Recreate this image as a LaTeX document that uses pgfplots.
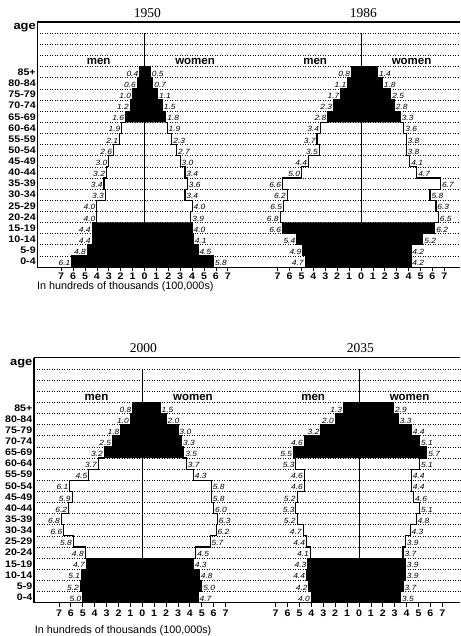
\documentclass[border=0pt]{standalone}
\usepackage{fontspec}
\setmainfont{Liberation Sans}
\newfontfamily\titlefont{Liberation Serif}
\newfontfamily\widesans{Liberation Sans}[FakeStretch=1.12]
\usepackage{pgfplots}
\usepackage{pgfplotstable}
\pgfplotsset{compat=1.18}

% k = age group index (0 = 0-4 ... 17 = 85+), m = men, w = women (hundreds of thousands)
\pgfplotstableread{
k m w
0 6.1 5.8
1 4.8 4.5
2 4.4 4.1
3 4.4 4.0
4 4.0 3.9
5 4.0 4.0
6 3.3 3.4
7 3.4 3.6
8 3.2 3.4
9 3.0 3.0
10 2.6 2.7
11 2.1 2.3
12 1.9 1.9
13 1.6 1.8
14 1.2 1.5
15 1.0 1.1
16 0.6 0.7
17 0.4 0.5
18 0 0
}\tA
\pgfplotstableread{
k m w
0 4.7 4.2
1 4.9 4.2
2 5.4 5.2
3 6.6 6.2
4 6.8 6.5
5 6.5 6.3
6 6.2 5.8
7 6.6 6.7
8 5.0 4.7
9 4.4 4.1
10 3.5 3.8
11 3.7 3.8
12 3.4 3.6
13 2.8 3.3
14 2.3 2.8
15 1.7 2.5
16 1.1 1.8
17 0.8 1.4
18 0 0
}\tB
\pgfplotstableread{
k m w
0 5.0 4.7
1 5.2 5.0
2 5.1 4.8
3 4.7 4.3
4 4.8 4.5
5 5.8 5.7
6 6.6 6.2
7 6.8 6.3
8 6.2 6.0
9 5.9 5.8
10 6.1 5.8
11 4.5 4.3
12 3.7 3.7
13 3.2 3.5
14 2.5 3.3
15 1.8 3.0
16 1.0 2.0
17 0.8 1.5
18 0 0
}\tC
\pgfplotstableread{
k m w
0 4.0 3.5
1 4.2 3.7
2 4.4 3.9
3 4.3 3.9
4 4.1 3.7
5 4.4 3.9
6 4.7 4.3
7 5.2 4.8
8 5.3 5.1
9 5.2 4.6
10 4.6 4.4
11 4.6 4.4
12 5.3 5.1
13 5.5 5.7
14 4.6 5.1
15 3.2 4.4
16 2.0 3.3
17 1.3 2.9
18 0 0
}\tD

\newcommand{\agefnt}{\widesans\bfseries\fontsize{9.5}{10}\selectfont}
\newcommand{\valfnt}{\widesans\itshape\fontsize{7.5}{8}\selectfont}
\newcommand{\sexfnt}{\bfseries\fontsize{11.5}{12}\selectfont}

\pgfplotsset{
  pyr/.style={x=11.9pt, y=11.13pt, ymin=0, ymax=22, enlargelimits=false,
    clip=false, anchor=south west, axis line style={draw=none},
    xtick={-7,-6,-5,-4,-3,-2,-1,0,1,2,3,4,5,6,7},
    xticklabels={7,6,5,4,3,2,1,0,1,2,3,4,5,6,7},
    xtick pos=bottom, xtick align=outside, major tick length=4.5pt,
    xtick style={black, line width=0.8pt},
    xticklabel style={font=\agefnt, inner sep=0.8pt},
    ytick=\empty, ytick style={draw=none}},
  agelab/.style={ytick={0.5,1.5,2.5,3.5,4.5,5.5,6.5,7.5,8.5,9.5,10.5,11.5,12.5,13.5,14.5,15.5,16.5,17.5,21.5},
    yticklabels={0-4,5-9,10-14,15-19,20-24,25-29,30-34,35-39,40-44,45-49,50-54,55-59,60-64,65-69,70-74,75-79,80-84,85+,{\fontsize{11.5}{12}\selectfont age}},
    yticklabel style={font=\agefnt, inner sep=1.5pt}},
}

\newcommand{\pyramid}[3]{%
  \pgfplotsinvokeforeach{1,...,21}{\draw[black, line width=0.6pt, dash pattern=on 0.9pt off 1.6pt] (axis cs:#2,##1) -- (axis cs:#3,##1);}
  \draw[line width=1.3pt] (axis cs:#2,22) -- (axis cs:#3,22);
  \draw[line width=0.9pt] (axis cs:#2,0) -- (axis cs:#3,0);
  \draw[line width=0.9pt] (axis cs:0,0) -- (axis cs:0,21);
  \addplot[xbar, bar width=1, bar shift=0pt, fill=black, draw=none, restrict y to domain=0:4] table[x expr=-\thisrow{m}, y expr=\thisrow{k}+0.5]{#1};
  \addplot[xbar, bar width=1, bar shift=0pt, fill=black, draw=none, restrict y to domain=13:18] table[x expr=-\thisrow{m}, y expr=\thisrow{k}+0.5]{#1};
  \addplot[xbar, bar width=1, bar shift=0pt, fill=black, draw=none, restrict y to domain=0:4] table[x=w, y expr=\thisrow{k}+0.5]{#1};
  \addplot[xbar, bar width=1, bar shift=0pt, fill=black, draw=none, restrict y to domain=13:18] table[x=w, y expr=\thisrow{k}+0.5]{#1};
  \addplot[const plot mark right, black, line width=1.1pt, mark=none] table[x expr=-\thisrow{m}, y=k]{#1};
  \addplot[const plot mark right, black, line width=1.1pt, mark=none] table[x=w, y=k]{#1};
  \addplot[only marks, mark=*, mark size=0pt, mark options={draw=none,fill=none}, point meta=explicit symbolic, nodes near coords, nodes near coords style={anchor=base east, font=\valfnt, inner sep=1.3pt, text=black}, restrict y to domain=0:17.9] table[x expr=-\thisrow{m}, y expr=\thisrow{k}+0.13, meta=m]{#1};
  \addplot[only marks, mark=*, mark size=0pt, mark options={draw=none,fill=none}, point meta=explicit symbolic, nodes near coords, nodes near coords style={anchor=base west, font=\valfnt, inner sep=1.3pt, text=black}, restrict y to domain=0:17.9] table[x=w, y expr=\thisrow{k}+0.13, meta=w]{#1};
  \node[font=\sexfnt] at (axis cs:-3.85,18.45) {men};
  \node[font=\sexfnt] at (axis cs:4.25,18.45) {women};
}

\begin{document}
\begin{tikzpicture}
\useasboundingbox (0,0) rectangle (460pt,636pt);
% 1950
\begin{axis}[pyr, agelab, at={(37.4pt,369pt)}, xmin=-9, xmax=7.185]
  \pyramid{\tA}{-9}{7.185}
  \draw[line width=1.3pt] (axis cs:-9,0) -- (axis cs:-9,22);
  \node[font=\titlefont\fontsize{13.5}{14}\selectfont] at (axis cs:0.25,22.85) {1950};
  \node[anchor=west, font=\fontsize{10.8}{11}\selectfont, inner sep=0pt] at (axis cs:-9.05,-1.8) {In hundreds of thousands (100,000s)};
\end{axis}
% 1986
\begin{axis}[pyr, at={(230pt,369pt)}, xmin=-11.008, xmax=8.319]
  \pyramid{\tB}{-11.008}{8.319}
  \node[font=\titlefont\fontsize{13.5}{14}\selectfont] at (axis cs:0.2,22.85) {1986};
\end{axis}
% 2000
\begin{axis}[pyr, agelab, at={(34pt,33.3pt)}, xmin=-9.1, xmax=7.37, xticklabel style={yshift=-1.5pt}]
  \pyramid{\tC}{-9.1}{7.37}
  \draw[line width=1.3pt] (axis cs:-9.1,0) -- (axis cs:-9.1,22);
  \node[font=\titlefont\fontsize{13.5}{14}\selectfont] at (axis cs:0.1,22.87) {2000};
  \node[anchor=west, font=\fontsize{10.8}{11}\selectfont, inner sep=0pt] at (axis cs:-9.05,-2.5) {In hundreds of thousands (100,000s)};
\end{axis}
% 2035
\begin{axis}[pyr, at={(230pt,33.3pt)}, xmin=-10.84, xmax=8.49, xticklabel style={yshift=-1.5pt}]
  \pyramid{\tD}{-10.84}{8.49}
  \node[font=\titlefont\fontsize{13.5}{14}\selectfont] at (axis cs:0.12,22.87) {2035};
\end{axis}
\end{tikzpicture}
\end{document}
